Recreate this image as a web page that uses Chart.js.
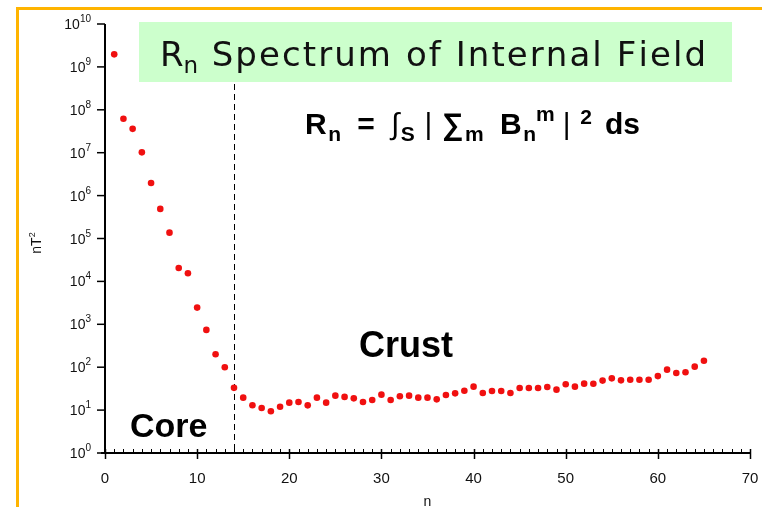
<!DOCTYPE html>
<html><head><meta charset="utf-8">
<script src="https://cdn.jsdelivr.net/npm/chart.js@4/dist/chart.umd.min.js"></script>
<style>html,body{margin:0;padding:0;background:#fff;overflow:hidden}canvas{display:block}</style>
</head><body>
<canvas id="c" width="762" height="507"></canvas>
<script>
// ---- data ----
const degrees = [1,2,3,4,5,6,7,8,9,10,11,12,13,14,15,16,17,18,19,20,21,22,23,24,25,26,27,28,29,30,31,32,33,34,35,36,37,38,39,40,41,42,43,44,45,46,47,48,49,50,51,52,53,54,55,56,57,58,59,60,61,62,63,64,65];
const rnValues = [1.96e9,6.2e7,3.6e7,1.02e7,1.96e6,4.9e5,1.37e5,2.05e4,1.55e4,2.45e3,740,200,100,33,19.5,13,11.2,9.4,12,14.9,15.5,12.9,19.5,14.9,21.7,20.3,18.8,15.5,17.2,22.9,17.2,21,21.7,19.5,19.5,17.8,22.5,24.6,28.3,35.2,25,27.9,27.9,25,32.7,32.7,32.7,34.5,30,39.9,35.2,41.4,41,48.7,55,49.4,51,51,51,62,87.6,73,76,103,141];
const xTickValues = [0,10,20,30,40,50,60,70];
const yTickExponents = [0,1,2,3,4,5,6,7,8,9,10];
const boundaryDegree = 14;
const titleMain = "R", titleSub = "n", titleRest = " Spectrum of Internal Field";
const coreLabel = "Core", crustLabel = "Crust";
const xAxisTitle = "n", yAxisTitle = "nT", yAxisTitleSup = "2";

const points = degrees.map((n,i)=>({x:n,y:rnValues[i]}));

// Draw pieces so the run spans [x, xEnd]; extra space goes only into gaps with weight w.
function drawSpread(ctx, pieces, x, xEnd, y){
  let natural = 0, weight = 0;
  pieces.forEach((p,i)=>{
    ctx.font = p.font;
    natural += ctx.measureText(p.t).width;
    if(i>0) weight += (p.w===undefined?1:p.w);
  });
  const unit = weight>0 ? (xEnd - x - natural)/weight : 0;
  pieces.forEach((p,i)=>{
    if(i>0) x += unit*(p.w===undefined?1:p.w);
    ctx.font = p.font;
    ctx.fillText(p.t, x, y + (p.dy||0));
    x += ctx.measureText(p.t).width;
  });
}
function charPieces(str, font, dy, firstW){
  return Array.from(str).map((ch,i)=>({t:ch, font, dy, w: i===0 ? firstW : 1}));
}

const deco = {
  id:'deco',
  beforeDraw(chart){
    const ctx = chart.ctx;
    ctx.save();
    ctx.fillStyle = '#fff';
    ctx.fillRect(0,0,chart.width,chart.height);
    ctx.fillStyle = '#ffb400';
    ctx.fillRect(16,7,chart.width-16,3);
    ctx.fillRect(16,7,3,chart.height-7);
    ctx.fillStyle = '#ccffcc';
    ctx.fillRect(139,22,593,60);
    ctx.restore();
  },
  beforeDatasetsDraw(chart){
    const ctx = chart.ctx, xs = chart.scales.x, ys = chart.scales.y;
    const bx = Math.round(xs.getPixelForValue(boundaryDegree)) + 0.5;
    ctx.save();
    ctx.strokeStyle = '#000';
    ctx.lineWidth = 1;
    ctx.setLineDash([6,4]);
    ctx.beginPath();
    ctx.moveTo(bx, 84);
    ctx.lineTo(bx, ys.getPixelForValue(1));
    ctx.stroke();
    ctx.restore();
  },
  afterDraw(chart){
    const ctx = chart.ctx, xs = chart.scales.x, ys = chart.scales.y;
    const x0 = xs.getPixelForValue(0), x1 = xs.getPixelForValue(70);
    const yb = ys.getPixelForValue(1), yt = ys.getPixelForValue(1e10);
    ctx.save();
    ctx.strokeStyle = '#000';
    ctx.fillStyle = '#111';
    ctx.lineWidth = 2;
    ctx.beginPath();
    ctx.moveTo(x0, yt); ctx.lineTo(x0, yb+1);
    ctx.moveTo(x0-4, yb); ctx.lineTo(x1+1, yb);
    ctx.stroke();
    ctx.lineWidth = 1.5;
    for(const e of yTickExponents){
      const py = ys.getPixelForValue(Math.pow(10,e));
      ctx.beginPath(); ctx.moveTo(x0-8, py); ctx.lineTo(x0, py); ctx.stroke();
      ctx.font = '10px "Liberation Sans", Arial, sans-serif';
      const ew = ctx.measureText(String(e)).width;
      ctx.font = '14px "Liberation Sans", Arial, sans-serif';
      const bw = ctx.measureText('10').width;
      const right = 91;
      ctx.textAlign = 'left';
      ctx.fillText('10', right-ew-bw, py+5);
      ctx.font = '10px "Liberation Sans", Arial, sans-serif';
      ctx.fillText(String(e), right-ew, py-2);
    }
    for(let v=0; v<=70; v++){
      const px = Math.round(xs.getPixelForValue(v))+0.5;
      ctx.beginPath();
      if(v%10===0){ ctx.lineWidth=1.5; ctx.moveTo(px, yb-4); ctx.lineTo(px, yb+6); }
      else { ctx.lineWidth=1; ctx.moveTo(px, yb-4); ctx.lineTo(px, yb); }
      ctx.stroke();
    }
    ctx.font = '15px "Liberation Sans", Arial, sans-serif';
    ctx.textAlign = 'center';
    for(const v of xTickValues){
      ctx.fillText(String(v), xs.getPixelForValue(v), yb+30);
    }
    ctx.font = '14px "Liberation Sans", Arial, sans-serif';
    ctx.fillText(xAxisTitle, (x0+x1)/2, 506);
    ctx.save();
    ctx.translate(41, 243);
    ctx.rotate(-Math.PI/2);
    ctx.textAlign = 'left';
    ctx.font = '14px "Liberation Sans", Arial, sans-serif';
    const tw = ctx.measureText(yAxisTitle).width;
    ctx.font = '9px "Liberation Sans", Arial, sans-serif';
    const sw = ctx.measureText(yAxisTitleSup).width;
    let sx = -(tw+sw)/2;
    ctx.font = '14px "Liberation Sans", Arial, sans-serif';
    ctx.fillText(yAxisTitle, sx, 0);
    ctx.font = '9px "Liberation Sans", Arial, sans-serif';
    ctx.fillText(yAxisTitleSup, sx+tw, -6);
    ctx.restore();
    // title
    ctx.fillStyle = '#111';
    ctx.textAlign = 'left';
    const TF = '34px "DejaVu Sans", sans-serif';
    drawSpread(ctx, [
      {t:titleMain, font:TF},
      {t:titleSub, font:'23px "DejaVu Sans", sans-serif', dy:7, w:0},
      ...charPieces(titleRest, TF, 0, 0.3)
    ], 160, 706, 66);
    // equation
    const B = 'bold 30px "Liberation Sans", Arial, sans-serif';
    const Bs = 'bold 21px "Liberation Sans", Arial, sans-serif';
    const N = '30px "Liberation Sans", Arial, sans-serif';
    ctx.fillStyle = '#000';
    drawSpread(ctx, [
      {t:'R', font:B},
      {t:'n', font:Bs, dy:7, w:0.1},
      {t:'=', font:B, w:1},
      {t:'\u222B', font:N, w:1},
      {t:'S', font:Bs, dy:7, w:0.1},
      {t:'|', font:N, w:0.6},
      {t:'\u2211', font:B, w:0.6},
      {t:'m', font:Bs, dy:7, w:0.1},
      {t:'B', font:B, w:1},
      {t:'n', font:Bs, dy:7, w:0.1},
      {t:'m', font:Bs, dy:-13, w:0},
      {t:'|', font:N, w:0.5},
      {t:'2', font:Bs, dy:-10, w:0.6},
      {t:'ds', font:B, w:0.8}
    ], 305, 640, 134);
    ctx.font = 'bold 34px "Liberation Sans", Arial, sans-serif';
    ctx.fillText(coreLabel, 130, 437);
    ctx.font = 'bold 36px "Liberation Sans", Arial, sans-serif';
    ctx.fillText(crustLabel, 359, 357);
    ctx.restore();
  }
};

new Chart(document.getElementById('c'), {
  type:'scatter',
  data:{datasets:[{data:points, pointRadius:3.3, pointHoverRadius:3.3, pointBackgroundColor:'#f01010', pointBorderWidth:0, borderWidth:0, showLine:false}]},
  options:{
    responsive:false, animation:false, devicePixelRatio:1,
    layout:{padding:{left:105,right:12,top:24,bottom:54}},
    scales:{
      x:{type:'linear', min:0, max:70, display:false},
      y:{type:'logarithmic', min:1, max:1e10, display:false}
    },
    plugins:{legend:{display:false}, tooltip:{enabled:false}},
    clip:false
  },
  plugins:[deco]
});
</script>
</body></html>
